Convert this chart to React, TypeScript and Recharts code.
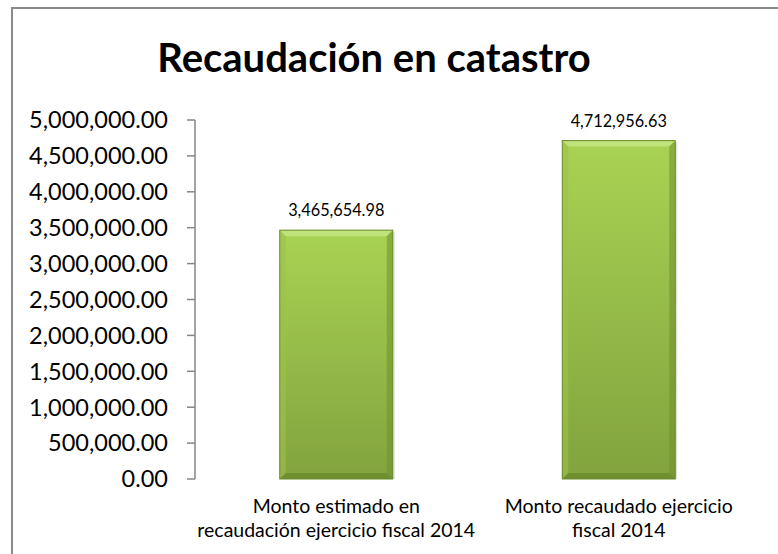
import React from "react";
import { BarChart, Bar, XAxis, YAxis, LabelList } from "recharts";

const categoryLines: string[][] = [
  ["Monto estimado en", "recaudación ejercicio fiscal 2014"],
  ["Monto recaudado ejercicio", "fiscal 2014"],
];
const categories: string[] = categoryLines.map((l) => l.join(" "));
const values: number[] = [3465654.98, 4712956.63];
const yTicks: number[] = [0, 500000, 1000000, 1500000, 2000000, 2500000, 3000000, 3500000, 4000000, 4500000, 5000000];
const boundaryTicks: number[] = [0, 1, 2];

const data = categories.map((c, i) => ({ name: c, value: values[i], idx: i }));

const FONT = "Lato, 'Open Sans', sans-serif";
const AXIS = "#868686";

const fmt = (v: number) =>
  Number(v).toLocaleString("en-US", { minimumFractionDigits: 2, maximumFractionDigits: 2 });

const BevelBar = (props: any) => {
  const { x, y, width: w, height: h } = props;
  if (!w || !h) return null;
  const b = 6;
  return (
    <g>
      <rect x={x + 2} y={y + 2} width={w} height={h - 2} fill="#000" opacity={0.12} />
      <rect x={x} y={y} width={w} height={h} fill="url(#barGrad)" />
      <polygon points={`${x},${y} ${x + w},${y} ${x + w - b},${y + b} ${x + b},${y + b}`} fill="#c8e889" opacity={0.75} />
      <polygon points={`${x},${y} ${x + b},${y + b} ${x + b},${y + h - b} ${x},${y + h}`} fill="#9cc24a" opacity={0.6} />
      <polygon points={`${x + w},${y} ${x + w},${y + h} ${x + w - b},${y + h - b} ${x + w - b},${y + b}`} fill="#6f8f2c" opacity={0.55} />
      <polygon points={`${x},${y + h} ${x + w},${y + h} ${x + w - b},${y + h - b} ${x + b},${y + h - b}`} fill="#5f7d24" opacity={0.55} />
      <rect x={x} y={y} width={w} height={h} fill="none" stroke="#6b8a2a" strokeWidth={1} />
    </g>
  );
};

const CatTick = (props: any) => {
  const { x, y, index } = props;
  const lines = categoryLines[index] || [];
  return (
    <g transform={`translate(${x},${y})`}>
      <text textAnchor="middle" fontFamily={FONT} fontSize={19.5} fill="#000">
        {lines.map((ln, i) => (
          <tspan key={i} x={0} y={26 + i * 24}>
            {ln}
          </tspan>
        ))}
      </text>
    </g>
  );
};

export default function App() {
  return (
    <div
      style={{
        position: "absolute",
        left: 0,
        top: 0,
        width: 778,
        height: 554,
        overflow: "hidden",
        background: "#fff",
      }}
    >
      <div
        style={{
          position: "absolute",
          left: 11,
          top: 7,
          width: 900,
          height: 900,
          border: "2px solid #8a8a8a",
          boxSizing: "border-box",
        }}
      />
      <div
        style={{
          position: "absolute",
          left: 0,
          width: 748,
          top: 30,
          textAlign: "center",
          fontFamily: FONT,
          fontWeight: 700,
          fontSize: 40,
          lineHeight: "54px",
          color: "#000",
        }}
      >
        Recaudación en catastro
      </div>
      <div style={{ position: "absolute", left: 0, top: 0 }}>
        <BarChart
          width={778}
          height={554}
          data={data}
          margin={{ top: 120, right: 18, bottom: 0, left: 0 }}
          barCategoryGap="30%"
        >
          <defs>
            <linearGradient id="barGrad" x1="0" y1="0" x2="0" y2="1">
              <stop offset="0%" stopColor="#a9d353" />
              <stop offset="100%" stopColor="#82a33e" />
            </linearGradient>
          </defs>
          <XAxis
            xAxisId="grid"
            type="number"
            domain={[0, 2]}
            ticks={boundaryTicks}
            allowDataOverflow
            height={0}
            tick={() => <g />}
            tickSize={8}
            axisLine={{ stroke: AXIS, strokeWidth: 1.5 }}
            tickLine={{ stroke: AXIS, strokeWidth: 1.5 }}
          />
          <XAxis
            xAxisId="cat"
            dataKey="name"
            height={75}
            axisLine={false}
            tickLine={false}
            tick={<CatTick />}
            interval={0}
          />
          <YAxis
            width={195}
            domain={[0, 5000000]}
            ticks={yTicks}
            interval={0}
            tickFormatter={fmt}
            tickSize={8}
            tickMargin={19}
            axisLine={{ stroke: AXIS, strokeWidth: 1.5 }}
            tickLine={{ stroke: AXIS, strokeWidth: 1.5 }}
            tick={{ fill: "#000", fontSize: 23.5, fontFamily: FONT }}
          />
          <Bar dataKey="value" xAxisId="cat" isAnimationActive={false} shape={<BevelBar />}>
            <LabelList
              dataKey="value"
              position="top"
              offset={14}
              formatter={(v: any) => fmt(v)}
              style={{ fill: "#000", fontSize: 16.3, fontFamily: FONT }}
            />
          </Bar>
        </BarChart>
      </div>
    </div>
  );
}
